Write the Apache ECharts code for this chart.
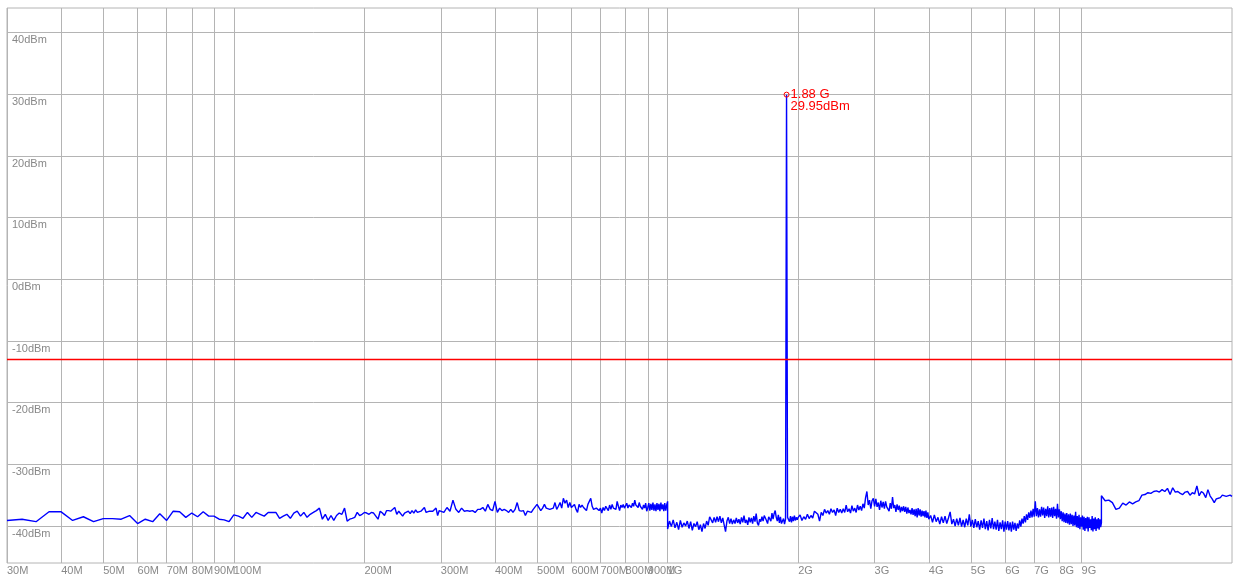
<!DOCTYPE html>
<html><head><meta charset="utf-8">
<script src="https://cdn.jsdelivr.net/npm/echarts@6/dist/echarts.min.js"></script>
<style>html,body{margin:0;padding:0;background:#fff}#c{width:1233px;height:578px}</style>
</head><body><div id="c"></div>
<script>
// ---- axis ticks ----
const xTickMHz = [30,40,50,60,70,80,90,100,200,300,400,500,600,700,800,900,1000,2000,3000,4000,5000,6000,7000,8000,9000];
const yTickDbm = [-40,-30,-20,-10,0,10,20,30,40];
const xRangeMHz = [30, 20000];
const limitDbm = -13;
const markerMHz = 1880;
const markerDbm = 29.95;

// ---- sweep segments: [startMHz, stepMHz] + measured levels (dBm) ----
const segA = [30, 2.5];
const segA_dbm = [-39.1,-38.9,-39.3,-37.7,-37.7,-39.1,-38.5,-39.3,-38.8,-38.8,
  -38.9,-38.3,-39.6,-38.9,-39.3,-38.0,-39.1,-37.6,-37.7,-38.6,
  -37.9,-38.5,-37.7,-38.4,-38.4,-38.9,-39.0,-39.3,-38.2];

const segB1 = [102.5, 2.5];
const segB1_dbm = [-38.4,-38.75,-37.8,-38.6,-37.8,-38.1,-38.4,-37.8,-37.8,-37.8,
  -38.75,-38.4,-38.1,-38.75,-37.9,-37.6,-38.4,-37.8,-38.6,-38.1,
  -37.8,-37.5,-37.1,-38.9,-38.1,-39.1,-38.3,-39.1,-38.3,-37.9,
  -38.1,-37.1,-39.2,-38.9,-38.75,-38.6,-37.8,-38.3,-38.1,-37.8,
  -37.9,-38.1,-37.8,-37.9,-38.4,-38.9,-37.6,-37.9,-38.3,-37.5,
  -37.5,-37.6,-37.3,-37.0,-38.1,-37.6,-37.8,-38.4,-37.9,-37.6,
  -37.6,-38.0,-37.5,-37.9,-37.4,-37.8,-38.0,-37.6,-37.5,-37.0,
  -37.8,-37.5,-37.6,-37.8,-37.6,-37.5,-37.1,-38.3,-37.5,-37.3];

const segB2 = [305, 5];
const segB2_dbm = [-37.8,-37.0,-37.6,-35.8,-37.3,-37.8,-37.1,-37.6,-37.5,-37.6,
  -37.5,-37.8,-37.3,-37.3,-37.0,-37.6,-36.5,-37.3,-37.5,-36.0,
  -37.8,-37.1,-37.5,-37.3,-37.5,-37.8,-37.3,-37.8,-37.3,-36.2,
  -37.5,-37.6,-37.5,-38.3,-37.6,-37.3,-37.8,-37.3,-37.0,-36.5,
  -36.6,-37.5,-37.1,-36.5,-37.1,-37.0,-37.3,-37.0,-37.1,-36.2,
  -37.3,-36.8,-36.2,-37.1,-35.5,-36.3,-35.8,-37.0,-36.2,-37.0,
  -36.8,-36.5,-37.3,-37.8,-36.5,-37.0,-36.6,-37.0,-36.8,-37.5,
  -36.5,-36.2,-35.5,-36.8,-37.3,-37.0,-37.1,-36.8,-37.5,-37.1,
  -37.9,-37.0,-37.5,-36.8,-37.1,-37.5,-36.6,-37.3,-36.5,-37.1,
  -36.8,-37.3,-36.0,-36.8,-37.5,-36.6,-37.0,-36.5,-37.1,-36.8,
  -36.3,-37.1,-36.6,-36.5,-37.0,-36.3,-36.8,-35.8,-36.6,-36.5,
  -37.0,-36.2,-36.8,-36.5,-37.3,-36.6,-37.1,-36.3,-37.6,-37.0,
  -36.3,-37.5,-36.4,-37.4,-36.2,-37.5,-36.5,-37.6,-36.3,-37.4,
  -36.4,-37.6,-36.2,-37.3,-36.5,-37.6,-36.3,-37.5,-36.6,-36.0];

const segC1 = [1000, 10];
const segC1_dbm = [-40.5,-39.2,-40.1,-39.0,-40.3,-39.4,-40.6,-39.1,-40.2,-39.5,
  -40.0,-39.2,-40.4,-39.3,-40.7,-39.6,-40.1,-39.3,-40.6,-39.8,
  -40.9,-39.6,-40.4,-39.2,-39.9,-38.5,-38.2,-39.5,-38.6,-39.4,
  -38.5,-39.3,-38.4,-39.5,-38.7,-39.8,-40.9,-39.2,-38.6,-39.6,
  -38.8,-39.7,-39.0,-39.6,-38.7,-39.5,-38.9,-39.7,-38.6,-39.4,
  -38.3,-39.5,-39.0,-39.8,-38.6,-39.4,-38.7,-39.6,-38.4,-39.3,
  -38.0,-39.5,-39.9,-38.9,-39.3,-38.5,-39.2,-38.3,-38.0,-39.1,
  -39.6,-38.5,-38.2,-39.2,-37.9,-38.9,-38.0,-37.5,-38.6,-39.2,
  -38.2,-39.5,-38.5,-39.6,-39.9,-38.8,-39.7,-38.9,29.95,-38.6,
  -38.3,-39.3,-38.4,-39.4,-38.5,-39.2,-38.3,-39.1,-38.6,-39.0,
  -38.6];

const segC2 = [2020, 20];
const segC2_dbm = [-38.2,-39.1,-38.5,-38.9,-38.1,-38.8,-38.3,-38.7,-37.6,-37.9,
  -38.1,-39.2,-37.8,-38.3,-37.3,-37.9,-37.5,-38.1,-37.2,-37.8,
  -37.4,-38.3,-37.1,-37.8,-37.3,-37.9,-37.2,-37.8,-36.6,-37.7,
  -37.2,-37.9,-36.7,-37.6,-37.1,-37.8,-36.6,-37.4,-36.8,-37.5,
  -36.4,-37.1,-35.4,-34.4,-36.6,-35.8,-37.2,-35.9,-35.5,-36.8,
  -35.6,-36.9,-36.2,-37.4,-35.9,-37.0,-36.1,-37.2,-36.0,-36.9,
  -36.6,-37.6,-36.3,-37.2,-35.3,-37.1,-36.6,-37.7,-36.5,-37.4,
  -36.7,-37.8,-36.9,-37.6,-36.8,-37.7,-36.9,-38.0,-37.0,-37.9,
  -37.4,-38.1,-37.1,-38.2,-37.3,-38.4,-37.2,-38.6,-37.1,-38.3,
  -37.3,-38.5,-37.5,-38.4,-37.6,-38.6,-37.5,-38.7,-37.8,-38.9];

const segC3 = [4040, 40];
const segC3_dbm = [-38.3,-39.4,-38.2,-39.3,-38.6,-39.7,-38.5,-39.5,-38.4,-39.6,
  -38.7,-37.7,-39.7,-38.9,-40.0,-38.8,-39.9,-38.7,-40.1,-39.0,
  -40.2,-38.8,-39.9,-38.1,-40.1,-39.0,-40.3,-38.9,-40.2,-39.2,
  -40.6,-39.1,-40.3,-38.8,-40.5,-39.2,-40.7,-39.0,-40.4,-38.7,
  -40.5,-39.3,-40.6,-39.0,-40.8,-39.4,-40.5,-39.1,-40.9,-39.3,
  -40.6,-39.2,-40.7,-39.4,-40.9,-39.3,-40.6,-39.5,-40.8,-39.6,
  -40.4,-39.1,-40.1,-38.8,-39.6,-38.4,-39.4,-38.1,-39.0,-37.8,
  -38.7,-37.5,-38.6,-37.2,-38.5,-36.0,-38.4,-37.1,-38.6,-37.3,
  -38.5,-36.9,-38.3,-37.0,-38.7,-37.2,-38.4,-36.8,-38.6,-37.1,
  -38.5,-37.0,-38.7,-36.9,-38.4,-37.2,-38.8,-36.4,-38.6,-37.3,
  -38.9,-37.6,-39.2,-37.8,-39.4,-38.0,-39.5,-37.9,-39.6,-38.1,
  -39.8,-38.0,-39.7,-38.2,-40.0,-38.3,-39.9,-37.7,-40.2,-38.4,
  -40.3,-38.2,-40.5,-38.6,-40.1,-38.3,-40.6,-38.5,-40.8,-38.7,
  -40.4,-38.5,-40.9,-38.6,-40.3,-38.9,-40.7,-38.4,-40.9,-38.8,
  -40.5,-38.6,-40.8,-38.9,-40.4,-38.7,-40.6,-38.9,-40.2,-39.5];

const segD = [10000, 200];
const segD_dbm = [-35.1,-35.9,-35.8,-36.2,-37.3,-37.1,-36.3,-36.6,-36.1,-36.4,
  -36.1,-35.9,-35.0,-34.9,-34.6,-34.7,-34.4,-34.3,-34.5,-34.1,
  -34.4,-33.9,-34.9,-33.8,-34.5,-34.4,-34.7,-34.9,-34.5,-34.4,
  -35.0,-34.6,-34.8,-33.5,-35.1,-34.4,-34.7,-35.4,-34.1,-35.1,
  -35.6,-36.2,-35.6,-35.5,-35.4,-35.0,-34.9,-35.2,-35.4,-35.0,
  -35.2];

function sweep(seg, vals) {
  return vals.map(function (v, i) { return [+(seg[0] + i * seg[1]).toFixed(3), v]; });
}
const traceData = [].concat(
  sweep(segA, segA_dbm), sweep(segB1, segB1_dbm), sweep(segB2, segB2_dbm),
  sweep(segC1, segC1_dbm), sweep(segC2, segC2_dbm), sweep(segC3, segC3_dbm),
  sweep(segD, segD_dbm));
const limitData = xRangeMHz.map(function (f) { return [f, limitDbm]; });

const markerText = (markerMHz / 1000) + ' G\n' + markerDbm.toFixed(2) + 'dBm';
const gridColor = '#b4b4b4';
const labelColor = '#888888';
const font = '"Liberation Sans", Arial, sans-serif';

const chart = echarts.init(document.getElementById('c'), null, { renderer: 'canvas' });
chart.setOption({
  animation: false,
  backgroundColor: '#ffffff',
  tooltip: { show: false },
  grid: { left: 7, right: 1, top: 8, bottom: 15, show: true, borderColor: gridColor, borderWidth: 1, backgroundColor: '#ffffff', containLabel: false },
  xAxis: {
    type: 'log', logBase: 10, min: xRangeMHz[0], max: xRangeMHz[1],
    axisLine: { show: false, onZero: false },
    axisTick: { show: false, customValues: xTickMHz },
    axisLabel: {
      customValues: xTickMHz, hideOverlap: false,
      formatter: function (v) { v = Math.round(v); return v >= 1000 ? (v / 1000) + 'G' : v + 'M'; },
      align: 'left', margin: 2, color: labelColor, fontSize: 11, fontFamily: font
    },
    splitLine: { show: true, lineStyle: { color: gridColor, width: 1 } }
  },
  yAxis: {
    type: 'value', min: -46, max: 44,
    axisLine: { show: false, onZero: false },
    axisTick: { show: false, customValues: yTickDbm },
    axisLabel: {
      customValues: yTickDbm, inside: true, formatter: '{value}dBm',
      verticalAlign: 'top', align: 'left', margin: 5, padding: [2, 0, 0, 0],
      color: labelColor, fontSize: 11, fontFamily: font
    },
    splitLine: { show: true, lineStyle: { color: gridColor, width: 1 } }
  },
  series: [{
    name: 'trace', type: 'line', data: traceData, showSymbol: false, symbol: 'none',
    sampling: null, clip: true, z: 2,
    itemStyle: { color: '#0000ff' },
    lineStyle: { color: '#0000ff', width: 1.4 },
    markPoint: {
      symbol: 'circle', symbolSize: 5,
      itemStyle: { color: 'rgba(255,255,255,0)', borderColor: '#ff0000', borderWidth: 1 },
      label: {
        show: true, position: 'right', distance: 1, offset: [0, 6],
        formatter: markerText, color: '#ff0000', fontSize: 13, lineHeight: 12, fontFamily: font
      },
      data: [{ coord: [markerMHz, markerDbm] }]
    }
  }, {
    name: 'limit', type: 'line', data: limitData, showSymbol: false, symbol: 'none',
    silent: true, z: 5,
    itemStyle: { color: '#ff0000' },
    lineStyle: { color: '#ff0000', width: 1.5, type: 'solid', opacity: 1 }
  }]
});
</script>
</body></html>
